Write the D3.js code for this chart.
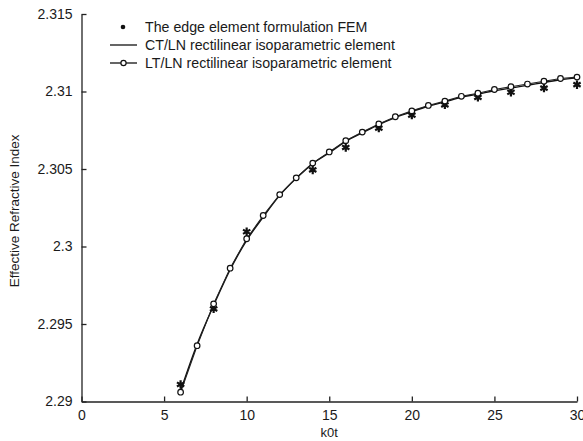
<!DOCTYPE html>
<html>
<head>
<meta charset="utf-8">
<script src="https://cdn.jsdelivr.net/npm/d3@7"></script>
<style>
  body { margin: 0; background: #fff; }
  svg text { font-family: "Liberation Sans", Arial, sans-serif; fill: #1a1a1a; }
</style>
</head>
<body>
<div id="chart"></div>
<script>
// x = k0t
var xCircles = [6, 7, 8, 9, 10, 11, 12, 13, 14, 15, 16, 17, 18, 19, 20, 21, 22, 23, 24, 25, 26, 27, 28, 29, 30];
// LT/LN rectilinear isoparametric element
var ltValues = [2.2906, 2.2936, 2.2963, 2.2986, 2.3005, 2.3020, 2.30335, 2.30443, 2.30538, 2.30610,
    2.30683, 2.30738, 2.30791, 2.30837, 2.30875, 2.30910, 2.30938, 2.30969, 2.30989, 2.31013,
    2.31031, 2.31048, 2.31066, 2.31084, 2.31093];
// CT/LN rectilinear isoparametric element
var ctValues = [2.2907, 2.2937, 2.2962, 2.2985, 2.3004, 2.3019, 2.30330, 2.30440, 2.30535, 2.30605,
    2.30678, 2.30733, 2.30787, 2.30832, 2.30870, 2.30905, 2.30933, 2.30963, 2.30983, 2.31005,
    2.31022, 2.31040, 2.31058, 2.31076, 2.31088];
// The edge element formulation FEM
var xStars = [6, 8, 10, 14, 16, 18, 20, 22, 24, 26, 28, 30];
var femValues = [2.2911, 2.29598, 2.30095, 2.30494, 2.30639, 2.30764, 2.30848, 2.30914, 2.30962, 2.30995, 2.31022, 2.31044];

var xTicks = [0, 5, 10, 15, 20, 25, 30];
var yTicks = [2.29, 2.295, 2.3, 2.305, 2.31, 2.315];
var legendLabels = ['The edge element formulation FEM', 'CT/LN rectilinear isoparametric element', 'LT/LN rectilinear isoparametric element'];

var width = 583, height = 441;
var svg = d3.select('#chart').append('svg')
    .attr('width', width)
    .attr('height', height);

var xScale = d3.scaleLinear().domain([0, 30]).range([81.5, 577]);
var yScale = d3.scaleLinear().domain([2.29, 2.315]).range([401.5, 14]);

// Axes: ticks point inwards
var xAxis = d3.axisBottom(xScale).tickValues(xTicks).tickSize(-5).tickPadding(9).tickSizeOuter(0);
var yAxis = d3.axisLeft(yScale).tickValues(yTicks).tickSize(-5).tickPadding(9).tickSizeOuter(0)
    .tickFormat(function(d) { return d3.format('')(+d.toFixed(3)); });

var gx = svg.append('g')
    .attr('transform', 'translate(0,' + yScale(2.29) + ')')
    .call(xAxis);
var gy = svg.append('g')
    .attr('transform', 'translate(' + xScale(0) + ',0)')
    .call(yAxis);

[gx, gy].forEach(function(g) {
    g.select('.domain').attr('stroke', '#222').attr('stroke-width', 1.3);
    g.selectAll('.tick line').attr('stroke', '#222').attr('stroke-width', 1.3);
    g.selectAll('.tick text').style('font-size', '14px').attr('fill', '#1a1a1a');
});

// Axis titles
svg.append('text')
    .attr('x', xScale(15))
    .attr('y', 437)
    .attr('text-anchor', 'middle')
    .style('font-size', '13px')
    .text('k0t');

svg.append('text')
    .attr('transform', 'translate(19,' + yScale(2.3023) + ') rotate(-90)')
    .attr('text-anchor', 'middle')
    .style('font-size', '13.5px')
    .text('Effective Refractive Index');

var line = d3.line()
    .x(function(d) { return xScale(d[0]); })
    .y(function(d) { return yScale(d[1]); });

var ctData = xCircles.map(function(x, i) { return [x, ctValues[i]]; });
var ltData = xCircles.map(function(x, i) { return [x, ltValues[i]]; });
var femData = xStars.map(function(x, i) { return [x, femValues[i]]; });

var plot = svg.append('g');

plot.append('path')
    .datum(ctData)
    .attr('fill', 'none')
    .attr('stroke', '#111')
    .attr('stroke-width', 1.4)
    .attr('d', line.curve(d3.curveMonotoneX));

plot.append('path')
    .datum(ltData)
    .attr('fill', 'none')
    .attr('stroke', '#222')
    .attr('stroke-width', 1.1)
    .attr('d', line.curve(d3.curveLinear));

var star = d3.symbol().type(d3.symbolAsterisk).size(50);

plot.selectAll('path.star')
    .data(femData)
    .enter()
    .append('path')
    .classed('star', true)
    .attr('transform', function(d) { return 'translate(' + xScale(d[0]) + ',' + yScale(d[1]) + ')'; })
    .attr('d', star)
    .attr('fill', 'none')
    .attr('stroke', '#111')
    .attr('stroke-width', 2.2);

plot.selectAll('circle.lt')
    .data(ltData)
    .enter()
    .append('circle')
    .classed('lt', true)
    .attr('cx', function(d) { return xScale(d[0]); })
    .attr('cy', function(d) { return yScale(d[1]); })
    .attr('r', 2.8)
    .attr('fill', '#fff')
    .attr('stroke', '#111')
    .attr('stroke-width', 1.2);

// Legend
var legend = svg.append('g');
var legendY = [27, 45, 63];

legend.append('circle')
    .attr('cx', 123).attr('cy', legendY[0])
    .attr('r', 2.3)
    .attr('fill', '#111');

legend.append('line')
    .attr('x1', 110).attr('x2', 137)
    .attr('y1', legendY[1]).attr('y2', legendY[1])
    .attr('stroke', '#111').attr('stroke-width', 1.3);

legend.append('line')
    .attr('x1', 110).attr('x2', 137)
    .attr('y1', legendY[2]).attr('y2', legendY[2])
    .attr('stroke', '#111').attr('stroke-width', 1.3);

legend.append('circle')
    .attr('cx', 123.5).attr('cy', legendY[2])
    .attr('r', 2.6)
    .attr('fill', '#fff')
    .attr('stroke', '#111')
    .attr('stroke-width', 1.2);

legend.selectAll('text.leg')
    .data(legendLabels)
    .enter()
    .append('text')
    .classed('leg', true)
    .attr('x', 145)
    .attr('y', function(d, i) { return legendY[i]; })
    .attr('dy', '0.35em')
    .style('font-size', '14.2px')
    .text(function(d) { return d; });
</script>
</body>
</html>
